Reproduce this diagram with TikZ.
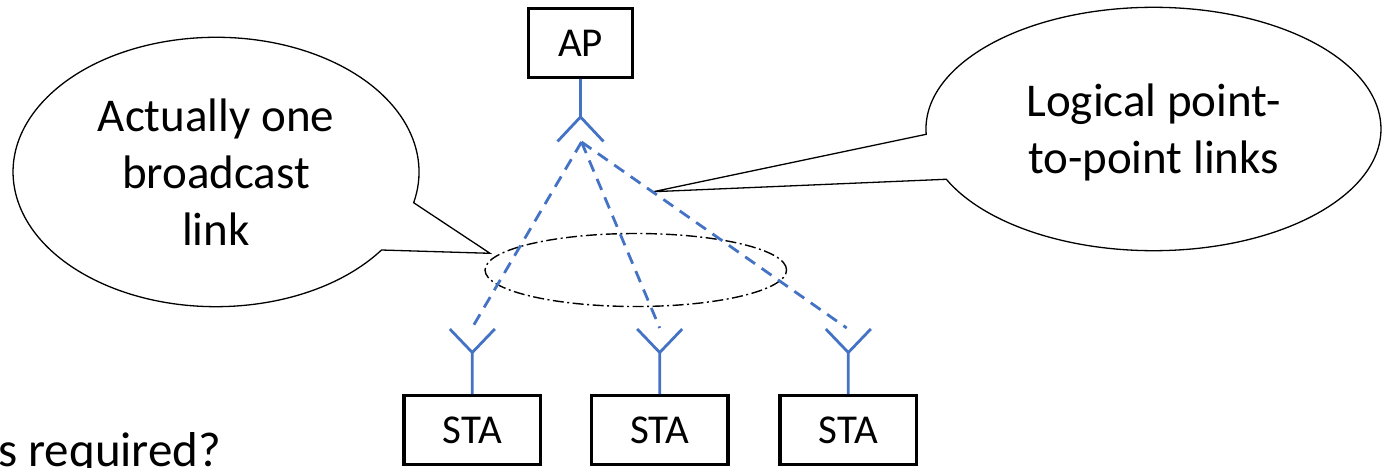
\documentclass[tikz,border=0pt]{standalone}
\usepackage{fontspec}
\setmainfont{Carlito}
\usetikzlibrary{shapes.geometric}
\definecolor{ablue}{HTML}{4472C4}
\begin{document}
\begin{tikzpicture}[x=1pt,y=-1pt,
  box/.style={draw=black, line width=3.2pt, inner sep=0pt, font=\fontsize{41}{49}\selectfont},
  stabox/.style={box, minimum width=136.7pt, minimum height=68.4pt},
  ant/.style={draw=ablue, line width=2.8pt},
  link/.style={draw=ablue, line width=2.8pt, dash pattern=on 12pt off 8pt},
  callout/.style={draw=black, line width=1.3pt, fill=white},
  ctext/.style={font=\fontsize{47}{57}\selectfont, align=center, anchor=base, inner sep=0pt},
  bcast/.style={draw=black, ellipse, line width=1.4pt, dash pattern=on 11pt off 3.5pt on 2pt off 3.5pt, inner sep=0pt},
]
\useasboundingbox (0,0) rectangle (1385,467);

% callouts
\draw[callout] (381.5,250.0) arc[start angle=35.4, end angle=373.2, x radius=203, y radius=134.7] -- (490,253.3) coordinate (tipL) -- cycle;
\draw[callout] (926.2,134.3) arc[start angle=177.5, end angle=515.6, x radius=227.5, y radius=121.7] -- (653.3,191.7) coordinate (tipR) -- cycle;
% base anchor of a multi-line node = baseline of its last line
\node[ctext] (tL) at (216,245) {Actually one\\broadcast\\link};
\node[ctext] (tR) at (1153.5,173.3) {Logical point-\\to-point links};

% boxes
\node[box, minimum width=103.8pt, minimum height=68.7pt] (AP) at (580.5,43) {AP};
\node[stabox] (s1) at (472.3,430) {STA};
\node[stabox] (s2) at (659.7,430) {STA};
\node[stabox] (s3) at (848.3,430) {STA};

% antennas
\draw[ant] (AP.south) -- ++(0,38) coordinate (apx) ++(-23,24.5) -- (apx) -- ++(23,24.5);
\draw[ant] (s1.north) -- ++(0,-41.7) coordinate (a1) ++(-22.5,-23.5) -- (a1) -- ++(22.5,-23.5);
\draw[ant] (s2.north) -- ++(0,-41.7) coordinate (a2) ++(-22.5,-23.5) -- (a2) -- ++(22.5,-23.5);
\draw[ant] (s3.north) -- ++(0,-41.7) coordinate (a3) ++(-22.5,-23.5) -- (a3) -- ++(22.5,-23.5);

% broadcast ellipse
\node[bcast, minimum width=301.5pt, minimum height=73pt] (bc) at (635.8,270) {};

% logical links
\coordinate (lk) at (581.5,142);
\path (a1) ++(0,-25) coordinate (e1);
\path (a2) ++(0,-24.5) coordinate (e2);
\path (a3) ++(-1.6,-24.5) coordinate (e3);
\draw[link] (lk) -- (e1);
\draw[link] (lk) -- (e2);
\draw[link] (lk) -- (e3);

% cut-off slide text
\node[anchor=base west, inner sep=0pt, font=\fontsize{49}{58}\selectfont] (q) at (-2,466) {s required?};
\end{tikzpicture}
\end{document}
